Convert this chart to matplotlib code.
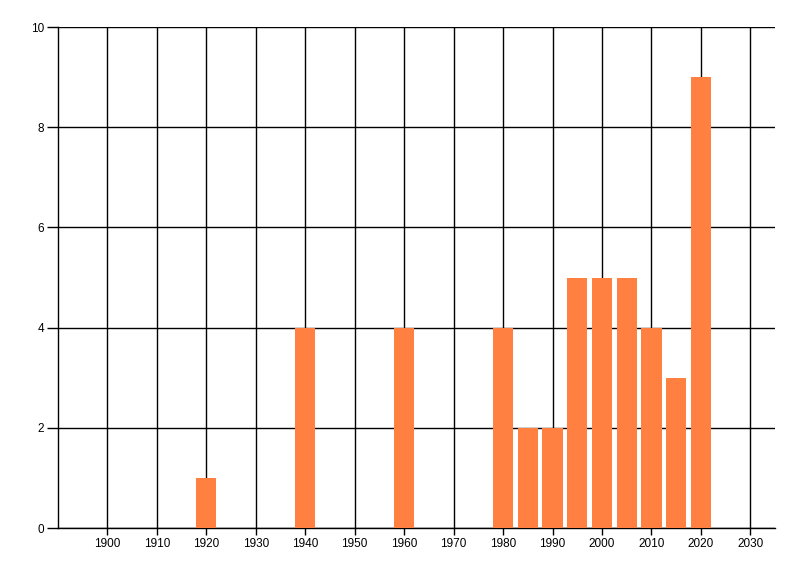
import matplotlib
matplotlib.use('Agg')
import matplotlib.pyplot as plt

# bar data
years = [1920, 1940, 1960, 1980, 1985, 1990, 1995, 2000, 2005, 2010, 2015, 2020]
counts = [1, 4, 4, 4, 2, 2, 5, 5, 5, 4, 3, 9]
x_ticks = list(range(1900, 2031, 10))
y_ticks = [0, 2, 4, 6, 8, 10]

plt.rcParams['font.family'] = ['Liberation Sans', 'DejaVu Sans']

fig = plt.figure(figsize=(8, 5.76), dpi=100)
ax = fig.add_axes([0.0725, 0.0833, 0.8963, 0.8698])

ax.bar(years, counts, width=4.1, color='#FF8040', zorder=3)

ax.set_xlim(1890, 2035)
ax.set_ylim(0, 10)
ax.set_xticks(x_ticks)
ax.set_yticks(y_ticks)

ax.grid(True, color='black', linewidth=1.0, zorder=1)
ax.set_axisbelow(True)

for side in ('top', 'right'):
    ax.spines[side].set_visible(False)
for side in ('left', 'bottom'):
    ax.spines[side].set_linewidth(1.0)
    ax.spines[side].set_color('black')

ax.tick_params(axis='x', length=5, width=1.0, pad=2, labelsize=8.5)
ax.tick_params(axis='y', length=8, width=1.0, pad=2, labelsize=8.5)

fig.savefig('out.png', dpi=100)
